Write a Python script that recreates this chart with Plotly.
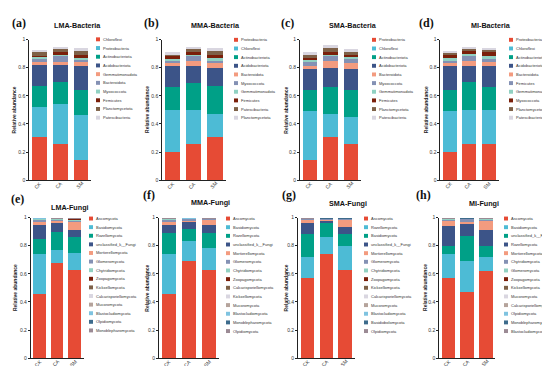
import plotly.graph_objects as go

W, H = 550, 366
groups = ["CK", "CA", "SM"]

# ---------------- data ----------------
titles = ["LMA-Bacteria", "MMA-Bacteria", "SMA-Bacteria", "MI-Bacteria",
          "LMA-Fungi", "MMA-Fungi", "SMA-Fungi", "MI-Fungi"]
panel_labels = ["(a)", "(b)", "(c)", "(d)", "(e)", "(f)", "(g)", "(h)"]

lma_bac_taxa = ["Chloroflexi", "Proteobacteria", "Actinobacteriota", "Acidobacteriota",
                "Gemmatimonadota", "Bacteroidota", "Myxococcota", "Firmicutes",
                "Planctomycetota", "Patescibacteria"]
lma_bac_ck = [0.31, 0.21, 0.15, 0.15, 0.02, 0.02, 0.02, 0.005, 0.03, 0.01]
lma_bac_ca = [0.26, 0.28, 0.16, 0.12, 0.02, 0.04, 0.02, 0.01, 0.03, 0.01]
lma_bac_sm = [0.14, 0.32, 0.18, 0.17, 0.03, 0.02, 0.01, 0.02, 0.03, 0.02]

mma_bac_taxa = ["Proteobacteria", "Chloroflexi", "Actinobacteriota", "Acidobacteriota",
                "Bacteroidota", "Myxococcota", "Gemmatimonadota", "Firmicutes",
                "Patescibacteria", "Planctomycetota"]
mma_bac_ck = [0.20, 0.30, 0.16, 0.15, 0.02, 0.02, 0.02, 0.01, 0.02, 0.01]
mma_bac_ca = [0.26, 0.24, 0.19, 0.12, 0.04, 0.03, 0.02, 0.01, 0.02, 0.02]
mma_bac_sm = [0.31, 0.16, 0.20, 0.13, 0.03, 0.02, 0.02, 0.02, 0.03, 0.02]

sma_bac_taxa = ["Proteobacteria", "Chloroflexi", "Actinobacteriota", "Acidobacteriota",
                "Bacteroidota", "Myxococcota", "Gemmatimonadota", "Firmicutes",
                "Planctomycetota", "Patescibacteria"]
sma_bac_ck = [0.14, 0.35, 0.15, 0.15, 0.02, 0.03, 0.02, 0.01, 0.03, 0.01]
sma_bac_ca = [0.31, 0.16, 0.19, 0.14, 0.05, 0.03, 0.02, 0.01, 0.03, 0.02]
sma_bac_sm = [0.26, 0.19, 0.19, 0.15, 0.04, 0.03, 0.02, 0.01, 0.03, 0.01]

mi_bac_taxa = ["Proteobacteria", "Chloroflexi", "Actinobacteriota", "Acidobacteriota",
               "Bacteroidota", "Firmicutes", "Gemmatimonadota", "Myxococcota",
               "Planctomycetota", "Patescibacteria"]
mi_bac_ck = [0.20, 0.29, 0.15, 0.17, 0.02, 0.02, 0.02, 0.03, 0.01, 0.01]
mi_bac_ca = [0.26, 0.24, 0.20, 0.11, 0.04, 0.03, 0.02, 0.02, 0.02, 0.01]
mi_bac_sm = [0.26, 0.24, 0.16, 0.15, 0.03, 0.02, 0.02, 0.03, 0.02, 0.01]

lma_fun_taxa = ["Ascomycota", "Basidiomycota", "Rozellomycota", "unclassified_k__Fungi",
                "Mortierellomycota", "Glomeromycota", "Chytridiomycota", "Zoopagomycota",
                "Kickxellomycota", "Calcarisporiellomycota", "Mucoromycota",
                "Blastocladiomycota", "Olpidiomycota", "Monoblepharomycota"]
lma_fun_ck = [0.46, 0.28, 0.11, 0.095, 0.02, 0.025, 0.003, 0.002, 0.002, 0.001, 0.001, 0.001, 0.0005, 0.0005]
lma_fun_ca = [0.68, 0.09, 0.13, 0.06, 0.025, 0.006, 0.003, 0.002, 0.001, 0.001, 0.001, 0.0005, 0.0003, 0.0002]
lma_fun_sm = [0.63, 0.12, 0.11, 0.05, 0.06, 0.015, 0.005, 0.003, 0.002, 0.002, 0.001, 0.001, 0.0005, 0.0005]

mma_fun_taxa = ["Ascomycota", "Basidiomycota", "Rozellomycota", "unclassified_k__Fungi",
                "Mortierellomycota", "Glomeromycota", "Chytridiomycota", "Zoopagomycota",
                "Calcarisporiellomycota", "Kickxellomycota", "Mucoromycota",
                "Blastocladiomycota", "Monoblepharomycota", "Olpidiomycota"]
mma_fun_ck = [0.46, 0.28, 0.15, 0.06, 0.02, 0.02, 0.004, 0.002, 0.001, 0.001, 0.001, 0.0005, 0.0003, 0.0002]
mma_fun_ca = [0.69, 0.14, 0.09, 0.05, 0.015, 0.008, 0.003, 0.001, 0.001, 0.001, 0.0005, 0.0005, 0.0003, 0.0002]
mma_fun_sm = [0.63, 0.15, 0.11, 0.06, 0.04, 0.004, 0.003, 0.001, 0.001, 0.0005, 0.0002, 0.0001, 0.0001, 0.0001]

sma_fun_taxa = ["Ascomycota", "Rozellomycota", "Basidiomycota", "unclassified_k__Fungi",
                "Mortierellomycota", "Glomeromycota", "Chytridiomycota", "Zoopagomycota",
                "Kickxellomycota", "Calcarisporiellomycota", "Mucoromycota",
                "Blastocladiomycota", "Basidiobolomycota", "Olpidiomycota"]
sma_fun_ck = [0.57, 0.15, 0.16, 0.08, 0.02, 0.015, 0.002, 0.001, 0.001, 0.0005, 0.0002, 0.0001, 0.0001, 0.0001]
sma_fun_ca = [0.74, 0.12, 0.10, 0.02, 0.01, 0.006, 0.002, 0.001, 0.0005, 0.0002, 0.0001, 0.0001, 0.0001, 0.0001]
sma_fun_sm = [0.63, 0.17, 0.08, 0.05, 0.06, 0.006, 0.002, 0.001, 0.0005, 0.0002, 0.0001, 0.0001, 0.0001, 0.0001]

mi_fun_taxa = ["Ascomycota", "Basidiomycota", "unclassified_k__Fungi", "Rozellomycota",
               "Mortierellomycota", "Chytridiomycota", "Glomeromycota", "Zoopagomycota",
               "Kickxellomycota", "Mucoromycota", "Calcarisporiellomycota", "Olpidiomycota",
               "Monoblepharomycota", "Blastocladiomycota"]
mi_fun_ck = [0.57, 0.17, 0.06, 0.14, 0.035, 0.015, 0.004, 0.002, 0.001, 0.001, 0.0005, 0.0003, 0.0001, 0.0001]
mi_fun_ca = [0.47, 0.22, 0.18, 0.09, 0.005, 0.03, 0.002, 0.001, 0.001, 0.0005, 0.0003, 0.0001, 0.0001, 0.0001]
mi_fun_sm = [0.62, 0.10, 0.08, 0.11, 0.07, 0.008, 0.005, 0.003, 0.002, 0.001, 0.0005, 0.0003, 0.0001, 0.0001]

palette = ["#E64B35", "#4DBBD5", "#00A087", "#3C5488", "#F39B7F", "#8491B4",
           "#91D1C2", "#7A1F0A", "#7E6148", "#D9D6E0", "#B5A39B", "#7FC3E0",
           "#3D6B8C", "#9B8A94"]

yticks = [0, 0.2, 0.4, 0.6, 0.8, 1]
ytick_text = ["0", "0.2", "0.4", "0.6", "0.8", "1"]

panels = [
    (lma_bac_taxa, lma_bac_ck, lma_bac_ca, lma_bac_sm),
    (mma_bac_taxa, mma_bac_ck, mma_bac_ca, mma_bac_sm),
    (sma_bac_taxa, sma_bac_ck, sma_bac_ca, sma_bac_sm),
    (mi_bac_taxa, mi_bac_ck, mi_bac_ca, mi_bac_sm),
    (lma_fun_taxa, lma_fun_ck, lma_fun_ca, lma_fun_sm),
    (mma_fun_taxa, mma_fun_ck, mma_fun_ca, mma_fun_sm),
    (sma_fun_taxa, sma_fun_ck, sma_fun_ca, sma_fun_sm),
    (mi_fun_taxa, mi_fun_ck, mi_fun_ca, mi_fun_sm),
]

# ---------------- layout geometry (pixels) ----------------
x_dom = [(21.1, 83.4), (154.1, 217.6), (291.8, 353.3), (432.3, 490.5),
         (22.7, 75.5), (150.8, 211.0), (290.0, 346.6), (431.1, 487.4)]
row_y = [(29, 172), (210, 353)]
label_y = [170.5, 351]
legend_x = [88, 226, 364, 501, 81, 218, 356, 496]
legend_y0 = [28.8, 29.3, 29.3, 29.3, 211, 211, 211, 211]
legend_step = [8.85, 8.8, 8.8, 8.8, 8.75, 8.8, 8.8, 8.8]
title_xy = [(70, 15), (207, 15), (345, 15), (483, 15),
            (62, 200), (202, 195), (340, 195.5), (476, 196)]
label_xy = [(11, 12), (143, 12), (279, 12), (418, 12),
            (9, 191), (141, 187), (281, 187), (415, 187)]
ytitle_off = [15.5, 15, 14, 14, 15.5, 12, 12.5, 14]


def px(x):
    return x / W


def py(y):
    return 1 - y / H


fig = go.Figure()
shapes = []
annotations = []
FONT = "Arial, Liberation Sans, sans-serif"

for k, (taxa, ck, ca, sm) in enumerate(panels):
    ax = "" if k == 0 else str(k + 1)
    for j, name in enumerate(taxa):
        fig.add_trace(go.Bar(
            x=groups, y=[ck[j], ca[j], sm[j]], name=name,
            marker=dict(color=palette[j], line=dict(width=0)),
            width=0.72, showlegend=False,
            xaxis="x" + ax, yaxis="y" + ax))
    r = 0 if k < 4 else 1
    x0, x1 = x_dom[k]
    y0, y1 = row_y[r]
    fig.layout["xaxis" + ax] = dict(
        domain=[px(x0), px(x1)], anchor="y" + ax, range=[-0.5, 2.5],
        showline=True, linecolor="#222", linewidth=0.7, ticks="",
        showticklabels=False,
        showgrid=False, zeroline=False, fixedrange=True)
    fig.layout["yaxis" + ax] = dict(
        domain=[py(y1), py(y0)], anchor="x" + ax, range=[0, 1.0],
        showline=True, linecolor="#222", linewidth=0.7,
        ticks="outside", ticklen=2, tickwidth=0.6, tickcolor="#222",
        tickvals=yticks, ticktext=ytick_text,
        tickfont=dict(size=5, family=FONT, color="#333"),
        showgrid=False, zeroline=False, fixedrange=True)
    # rotated category labels
    for g in groups:
        annotations.append(dict(text=g, xref="x" + ax, yref="paper",
                                x=g, y=py(label_y[r]), xanchor="center", yanchor="top",
                                xshift=-1.5, textangle=-45, showarrow=False, borderpad=0,
                                font=dict(size=5, family=FONT, color="#333")))
    # legend
    for j, name in enumerate(taxa):
        yc = legend_y0[k] + j * legend_step[k]
        lx = legend_x[k]
        shapes.append(dict(type="rect", xref="paper", yref="paper",
                           x0=px(lx), x1=px(lx + 4), y0=py(yc + 2), y1=py(yc - 2),
                           fillcolor=palette[j], line=dict(width=0)))
        annotations.append(dict(text=name, xref="paper", yref="paper",
                                x=px(lx + 6), y=py(yc), xanchor="left", yanchor="middle",
                                showarrow=False, borderpad=0,
                                font=dict(size=4.0, family=FONT, color="#333")))
    # title
    tx, ty = title_xy[k]
    annotations.append(dict(text="<b>" + titles[k] + "</b>", xref="paper", yref="paper",
                            x=px(tx), y=py(ty), xanchor="center", yanchor="middle",
                            showarrow=False, font=dict(size=7.2, family=FONT, color="#111")))
    # panel label
    lx_, ly_ = label_xy[k]
    annotations.append(dict(text="<b>" + panel_labels[k] + "</b>", xref="paper", yref="paper",
                            x=px(lx_), y=py(ly_), xanchor="center", yanchor="middle",
                            showarrow=False,
                            font=dict(size=12, family="Liberation Serif, Times New Roman, serif",
                                      color="#111")))
    # y-axis title
    annotations.append(dict(text="<b>Relative abundance</b>", xref="paper", yref="paper",
                            x=px(x0 - ytitle_off[k]), y=py((y0 + y1) / 2),
                            xanchor="center", yanchor="middle", textangle=-90,
                            showarrow=False, font=dict(size=5, family=FONT, color="#222")))

fig.update_layout(
    width=W, height=H, margin=dict(l=0, r=0, t=0, b=0),
    barmode="stack",
    paper_bgcolor="white", plot_bgcolor="white",
    shapes=shapes, annotations=annotations, showlegend=False)

fig.write_html("out.html")
